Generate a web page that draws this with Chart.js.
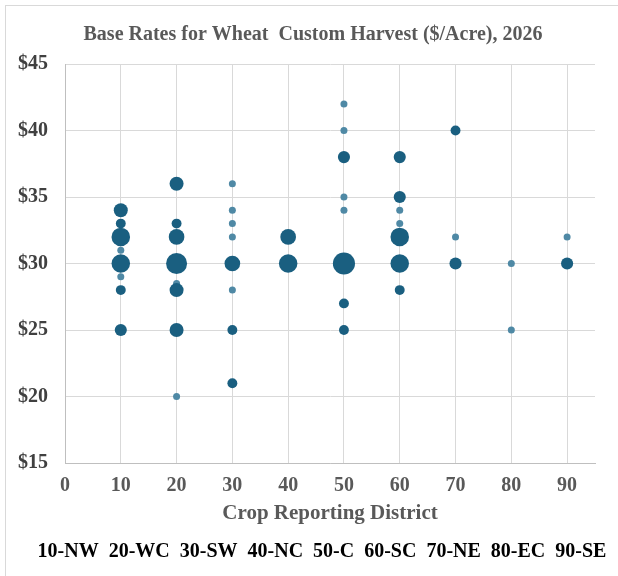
<!DOCTYPE html>
<html>
<head>
<meta charset="utf-8">
<script src="https://cdn.jsdelivr.net/npm/chart.js@4.4.1/dist/chart.umd.min.js"></script>
<style>
  html, body { margin: 0; padding: 0; background: #fff; overflow: hidden; }
  .frame { position: absolute; left: 5px; top: 5px; width: 640px; height: 600px; border: 1px solid #d9d9d9; }
  .wrap { position: absolute; left: 0; top: 0; width: 618px; height: 576px; }
</style>
</head>
<body>
<div class="frame"></div>
<div class="wrap"><canvas id="mycanvas"></canvas></div>
<script>
// one entry per bubble: district, base rate ($/acre), number of reports
const pointDistrict = [
  10, 10, 10, 10, 10, 10, 10, 10,
  20, 20, 20, 20, 20, 20, 20, 20,
  30, 30, 30, 30, 30, 30, 30, 30,
  40, 40,
  50, 50, 50, 50, 50, 50, 50, 50,
  60, 60, 60, 60, 60, 60, 60,
  70, 70, 70,
  80, 80,
  90, 90
];
const pointRate = [
  34, 33, 32, 31, 30, 29, 28, 25,
  36, 33, 32, 30, 28.5, 28, 25, 20,
  36, 34, 33, 32, 30, 28, 25, 21,
  32, 30,
  42, 40, 38, 35, 34, 30, 27, 25,
  38, 35, 34, 33, 32, 30, 28,
  40, 32, 30,
  30, 25,
  32, 30
];
const pointCount = [
  4, 2, 7, 1, 7, 1, 2, 3,
  4, 2, 5, 9, 1, 4, 4, 1,
  1, 1, 1, 1, 5, 1, 2, 2,
  5, 7,
  1, 1, 3, 1, 1, 10, 2, 2,
  3, 3, 1, 1, 7, 7, 2,
  2, 1, 3,
  1, 1,
  1, 3
];
const districtLabels = ['10-NW', '20-WC', '30-SW', '40-NC', '50-C', '60-SC', '70-NE', '80-EC', '90-SE'];

const points = pointDistrict.map((d, i) => ({
  x: d,
  y: pointRate[i],
  r: 3.5 * Math.sqrt(pointCount[i]),
  n: pointCount[i]
}));

const serif = "'Liberation Serif', 'Times New Roman', serif";

// district key line under the axis title
const districtKey = {
  id: 'districtKey',
  afterDraw(chart) {
    const ctx = chart.ctx;
    const area = chart.chartArea;
    ctx.save();
    ctx.font = 'bold 20px ' + serif;
    ctx.fillStyle = '#000';
    ctx.textAlign = 'center';
    ctx.textBaseline = 'middle';
    ctx.fillText(districtLabels.join('  '), (area.left + area.right) / 2 - 8, chart.height - 24);
    ctx.restore();
  }
};

new Chart(document.getElementById('mycanvas'), {
  type: 'bubble',
  data: {
    datasets: [{
      label: 'Base rate',
      data: points,
      borderWidth: 0,
      backgroundColor: (ctx) => (ctx.raw && ctx.raw.n === 1) ? '#4f89a5' : '#1a5f80'
    }]
  },
  options: {
    responsive: true,
    maintainAspectRatio: false,
    animation: false,
    layout: { padding: { left: 15, right: 7, top: 23, bottom: 52 } },
    plugins: {
      legend: { display: false },
      tooltip: { enabled: false },
      title: {
        display: true,
        text: 'Base Rates for Wheat  Custom Harvest ($/Acre), 2026',
        color: '#595959',
        font: { family: serif, size: 20, weight: 'bold' },
        padding: { top: 0, bottom: 17 }
      }
    },
    scales: {
      x: {
        type: 'linear',
        min: 0,
        max: 95,
        border: { color: '#bfbfbf' },
        grid: { color: '#d9d9d9', drawTicks: false },
        ticks: {
          stepSize: 10,
          includeBounds: false,
          color: '#595959',
          padding: 13,
          font: { family: serif, size: 20, weight: 'bold', lineHeight: 1 }
        },
        title: {
          display: true,
          text: 'Crop Reporting District',
          color: '#595959',
          font: { family: serif, size: 21, weight: 'bold', lineHeight: 1 },
          padding: { top: -6, bottom: 0 }
        }
      },
      y: {
        min: 15,
        max: 45,
        border: { color: '#bfbfbf' },
        grid: { color: '#d9d9d9', drawTicks: false },
        afterFit: (scale) => { scale.width = 50; },
        ticks: {
          stepSize: 5,
          color: '#404040',
          padding: 17,
          font: { family: serif, size: 20, weight: 'bold' },
          callback: (v) => '$' + v
        }
      },
      // empty right-hand gutter, keeps the plot where the original has it
      gutter: {
        position: 'right',
        min: 15,
        max: 45,
        grid: { display: false },
        border: { display: false },
        ticks: { display: false },
        afterFit: (scale) => { scale.width = 16; }
      }
    }
  },
  plugins: [districtKey]
});
</script>
</body>
</html>
